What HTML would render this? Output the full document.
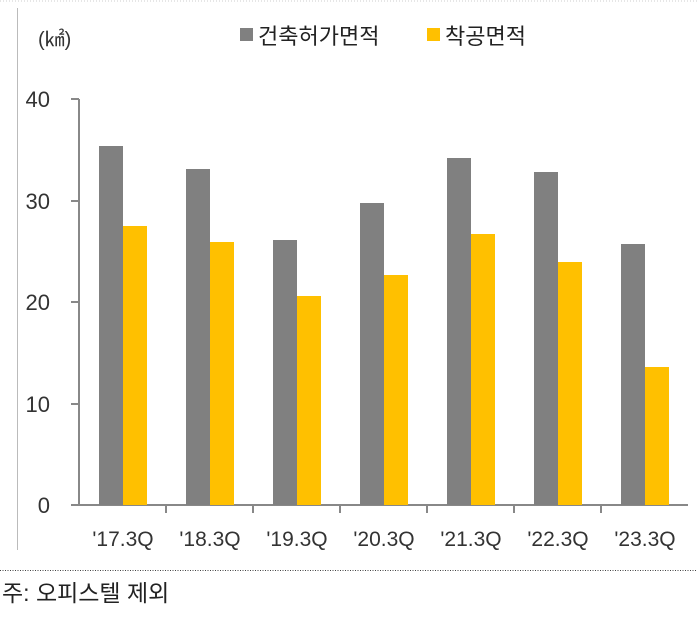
<!DOCTYPE html>
<html><head><meta charset="utf-8"><style>
html,body{margin:0;padding:0;background:#fff;}
svg text{font-family:"Liberation Sans","Noto Sans CJK KR",sans-serif;}
</style></head><body>
<svg width="697" height="617" xmlns="http://www.w3.org/2000/svg">
<line x1="0" y1="1" x2="697" y2="1" stroke="#ccc" stroke-dasharray="1,2"/>
<line x1="17.5" y1="8" x2="17.5" y2="550" stroke="#bbb"/>
<line x1="0" y1="570.5" x2="697" y2="570.5" stroke="#444" stroke-dasharray="1,1.5"/>
<text x="38" y="46" font-size="20" fill="#333">(㎢)</text>
<rect x="240" y="28" width="13" height="13" fill="#808080"/>
<text x="258" y="44" font-size="22" fill="#222">건축허가면적</text>
<rect x="427" y="28" width="13" height="13" fill="#FFC000"/>
<text x="445" y="44" font-size="22" fill="#222">착공면적</text>
<g font-size="22" fill="#333" text-anchor="end">
<text x="50" y="107">40</text><text x="50" y="209">30</text><text x="50" y="310">20</text><text x="50" y="412">10</text><text x="50" y="513">0</text>
</g>
<g stroke="#888" stroke-width="2">
<line x1="79" y1="99" x2="79" y2="506"/>
<line x1="71" y1="99" x2="79" y2="99"/><line x1="71" y1="201" x2="79" y2="201"/><line x1="71" y1="302" x2="79" y2="302"/><line x1="71" y1="404" x2="79" y2="404"/><line x1="71" y1="505" x2="79" y2="505"/>
<line x1="79" y1="505" x2="688" y2="505"/>
<line x1="166" y1="505" x2="166" y2="513"/><line x1="253" y1="505" x2="253" y2="513"/><line x1="340" y1="505" x2="340" y2="513"/><line x1="427" y1="505" x2="427" y2="513"/><line x1="514" y1="505" x2="514" y2="513"/><line x1="601" y1="505" x2="601" y2="513"/>
</g>
<g fill="#808080">
<rect x="99" y="146" width="24" height="359"/>
<rect x="186" y="169" width="24" height="336"/>
<rect x="273" y="240" width="24" height="265"/>
<rect x="360" y="203" width="24" height="302"/>
<rect x="447" y="158" width="24" height="347"/>
<rect x="534" y="172" width="24" height="333"/>
<rect x="621" y="244" width="24" height="261"/>
</g>
<g fill="#FFC000">
<rect x="123" y="226" width="24" height="279"/>
<rect x="210" y="242" width="24" height="263"/>
<rect x="297" y="296" width="24" height="209"/>
<rect x="384" y="275" width="24" height="230"/>
<rect x="471" y="234" width="24" height="271"/>
<rect x="558" y="262" width="24" height="243"/>
<rect x="645" y="367" width="24" height="138"/>
</g>
<g font-size="21" fill="#333" text-anchor="middle">
<text x="123" y="546">'17.3Q</text><text x="210" y="546">'18.3Q</text><text x="297" y="546">'19.3Q</text><text x="384" y="546">'20.3Q</text><text x="471" y="546">'21.3Q</text><text x="558" y="546">'22.3Q</text><text x="645" y="546">'23.3Q</text>
</g>
<text x="2" y="601" font-size="23" fill="#222">주: 오피스텔 제외</text>
</svg>
</body></html>
